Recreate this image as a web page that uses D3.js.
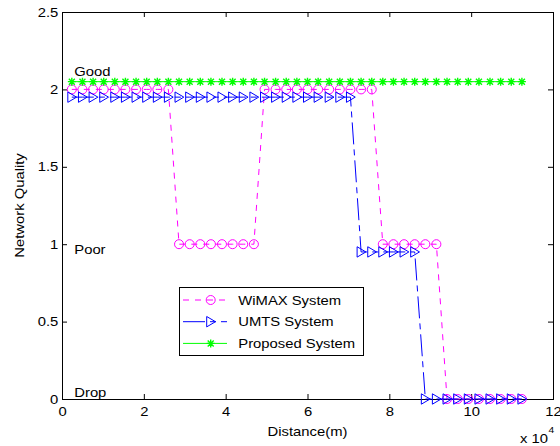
<!DOCTYPE html>
<html>
<head>
<meta charset="utf-8">
<script src="https://cdn.jsdelivr.net/npm/d3@7"></script>
<style>
  body { margin: 0; background: #fff; }
  text { font-family: "Liberation Sans", Arial, sans-serif; }
</style>
</head>
<body>
<div id="chart"></div>
<script>
// distance samples in metres
var distance = [2400, 5000, 7600, 10200, 12900, 15500, 18100, 20700, 23300, 26000,
    28600, 31200, 33800, 36400, 39100, 41700, 44300, 46900, 49500, 52200,
    54800, 57400, 60000, 62600, 65300, 67900, 70500, 73100, 75700, 78400,
    81000, 83600, 86200, 88800, 91500, 94100, 96700, 99300, 101900, 104600,
    107200, 109800, 112400];

var wimax = [2, 2, 2, 2, 2, 2, 2, 2, 2, 2,
    1, 1, 1, 1, 1, 1, 1, 1,
    2, 2, 2, 2, 2, 2, 2, 2, 2, 2, 2,
    1, 1, 1, 1, 1, 1,
    0, 0, 0, 0, 0, 0, 0, 0];

var umts = [1.95, 1.95, 1.95, 1.95, 1.95, 1.95, 1.95, 1.95, 1.95, 1.95,
    1.95, 1.95, 1.95, 1.95, 1.95, 1.95, 1.95, 1.95, 1.95, 1.95,
    1.95, 1.95, 1.95, 1.95, 1.95, 1.95, 1.95,
    0.95, 0.95, 0.95, 0.95, 0.95, 0.95,
    0, 0, 0, 0, 0, 0, 0, 0, 0, 0];

var proposed = [2.05, 2.05, 2.05, 2.05, 2.05, 2.05, 2.05, 2.05, 2.05, 2.05,
    2.05, 2.05, 2.05, 2.05, 2.05, 2.05, 2.05, 2.05, 2.05, 2.05,
    2.05, 2.05, 2.05, 2.05, 2.05, 2.05, 2.05, 2.05, 2.05, 2.05,
    2.05, 2.05, 2.05, 2.05, 2.05, 2.05, 2.05, 2.05, 2.05, 2.05,
    2.05, 2.05, 2.05];

var seriesNames = ["WiMAX System", "UMTS System", "Proposed System"];
var xTicks = [0, 20000, 40000, 60000, 80000, 100000, 120000];
var yTicks = [0, 0.5, 1, 1.5, 2, 2.5];

// quality level notes inside the plot
var levelNames = ["Good", "Poor", "Drop"];
var levelValues = [2.115, 0.965, 0.045];

var width = 560,
    height = 446,
    plotLeft = 62,
    plotRight = 553,
    plotTop = 12,
    plotBottom = 399,
    sx = 1.14;   // the original text is a bit stretched sideways

var x = d3.scaleLinear().domain([0, 120000]).range([plotLeft, plotRight]);
var y = d3.scaleLinear().domain([0, 2.5]).range([plotBottom, plotTop]);

var svg = d3.select("#chart").append("svg")
    .attr("width", width)
    .attr("height", height);

var addText = function (px, py, str, anchor, size) {
    return svg.append("text")
        .attr("transform", "translate(" + px + "," + py + ") scale(" + sx + ",1)")
        .attr("text-anchor", anchor)
        .attr("font-size", size)
        .style("fill", "#000")
        .text(str);
};

// axes, ticks pointing inwards on all four sides
var styleAxis = function (g) {
    g.select(".domain").remove();
    g.selectAll("line").attr("stroke", "#000");
    g.attr("font-size", 13).attr("font-family", null);
    g.selectAll("text").attr("transform", "scale(" + sx + ",1)").style("fill", "#000");
};

svg.append("g")
    .attr("transform", "translate(0," + plotBottom + ")")
    .call(d3.axisBottom(x).tickValues(xTicks).tickFormat(function (d) { return d / 1e4; })
        .tickSizeInner(-5).tickSizeOuter(0).tickPadding(8))
    .call(styleAxis);

svg.append("g")
    .attr("transform", "translate(0," + plotTop + ")")
    .call(d3.axisTop(x).tickValues(xTicks).tickFormat("").tickSizeInner(-5).tickSizeOuter(0))
    .call(styleAxis);

svg.append("g")
    .attr("transform", "translate(" + plotLeft + ",0)")
    .call(d3.axisLeft(y).tickValues(yTicks).tickFormat(d3.format("~g"))
        .tickSizeInner(-5).tickSizeOuter(0).tickPadding(3.3))
    .call(styleAxis);

svg.append("g")
    .attr("transform", "translate(" + plotRight + ",0)")
    .call(d3.axisRight(y).tickValues(yTicks).tickFormat("").tickSizeInner(-5).tickSizeOuter(0))
    .call(styleAxis);

svg.append("rect")
    .attr("x", plotLeft + 0.5)
    .attr("y", plotTop + 0.5)
    .attr("width", plotRight - plotLeft)
    .attr("height", plotBottom - plotTop)
    .attr("fill", "none")
    .attr("stroke", "#000")
    .attr("stroke-width", 1);

// axis titles
addText((plotLeft + plotRight) / 2, 436, "Distance(m)", "middle", 13);
svg.append("text")
    .attr("transform", "translate(24," + (plotTop + plotBottom) / 2 + ") rotate(-90) scale(" + sx + ",1)")
    .attr("text-anchor", "middle")
    .attr("font-size", 13)
    .text("Network Quality");
addText(520, 442.5, "x 10", "start", 13);
addText(548.5, 433, "4", "start", 9);

// level notes
levelNames.forEach(function (name, i) {
    svg.append("text")
        .attr("transform", "translate(" + x(3000) + "," + y(levelValues[i]) + ") scale(" + sx + ",1)")
        .attr("dominant-baseline", "central")
        .attr("font-size", 13)
        .text(name);
});

// marker shapes
var markerPath = {
    circle: "M-4.5,0A4.5,4.5 0 1,0 4.5,0A4.5,4.5 0 1,0 -4.5,0Z",
    triangle: "M-4,-5.2L-4,5.2L4.8,0Z",
    star: "M-4,0H4M0,-4V4M-3,-3L3,3M-3,3L3,-3"
};

var series = [
    {name: seriesNames[0], values: wimax, color: "#ff00ff", dash: "6,6", marker: "circle", mw: 1},
    {name: seriesNames[1], values: umts, color: "#0000ff", dash: "22,5,6,5", marker: "triangle", mw: 1},
    {name: seriesNames[2], values: proposed, color: "#00ff00", dash: null, marker: "star", mw: 1.4}
];

var line = d3.line()
    .x(function (d) { return x(d[0]); })
    .y(function (d) { return y(d[1]); });

series.forEach(function (s) {
    var pts = distance.map(function (d, i) { return [d, s.values[i]]; });

    svg.append("path")
        .datum(pts)
        .attr("d", line)
        .attr("fill", "none")
        .attr("stroke", s.color)
        .attr("stroke-width", 1)
        .attr("stroke-dasharray", s.dash);

    svg.selectAll(null)
        .data(pts)
        .enter()
        .append("path")
        .attr("d", markerPath[s.marker])
        .attr("transform", function (d) { return "translate(" + x(d[0]) + "," + y(d[1]) + ")"; })
        .attr("fill", "none")
        .attr("stroke", s.color)
        .attr("stroke-width", s.mw);
});

// legend
var lg = svg.append("g");
lg.append("rect")
    .attr("x", 179.5)
    .attr("y", 287.5)
    .attr("width", 184)
    .attr("height", 68)
    .attr("fill", "#fff")
    .attr("stroke", "#000");

series.forEach(function (s, i) {
    var ry = 300 + i * 21.7;
    lg.append("line")
        .attr("x1", 183).attr("x2", 227)
        .attr("y1", ry).attr("y2", ry)
        .attr("stroke", s.color)
        .attr("stroke-dasharray", s.dash);
    lg.append("path")
        .attr("d", markerPath[s.marker])
        .attr("transform", "translate(210.7," + ry + ")")
        .attr("fill", "none")
        .attr("stroke", s.color)
        .attr("stroke-width", s.mw);
    lg.append("text")
        .attr("transform", "translate(238.3," + ry + ") scale(" + sx + ",1)")
        .attr("dominant-baseline", "central")
        .attr("font-size", 13)
        .text(s.name);
});
</script>
</body>
</html>
